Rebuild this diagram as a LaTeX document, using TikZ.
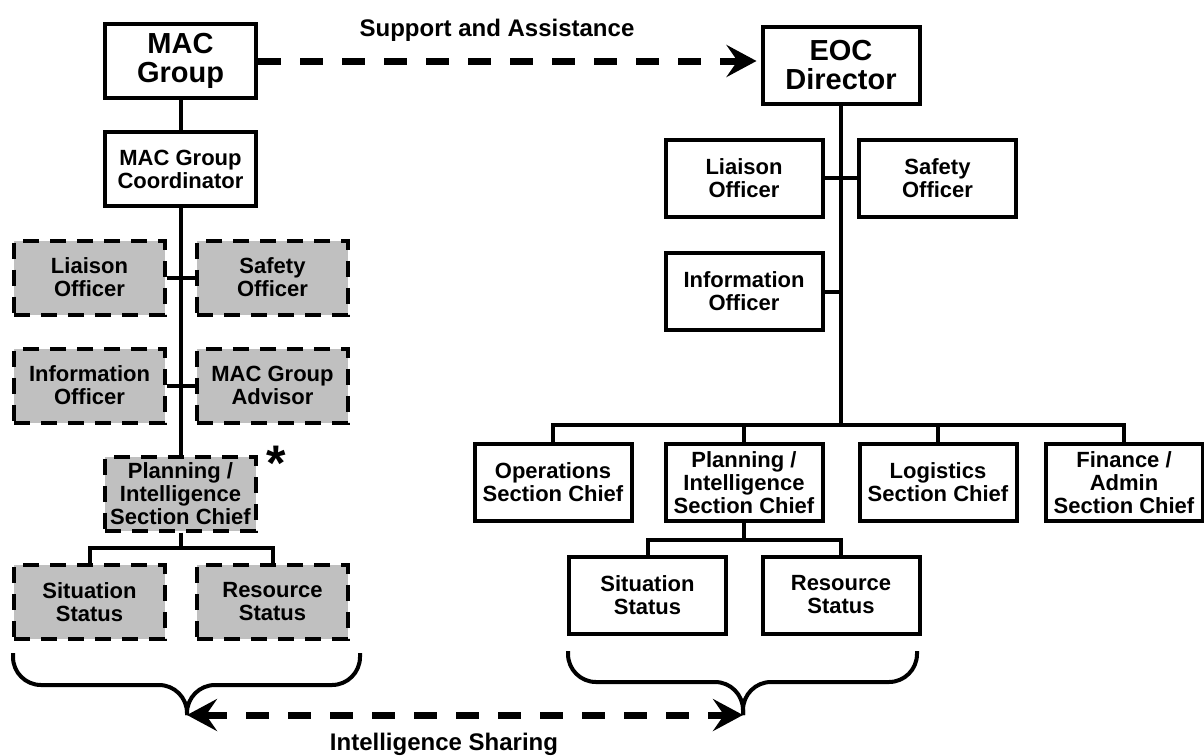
\documentclass[tikz,border=0pt]{standalone}
\usepackage{fontspec}
\setmainfont{Liberation Sans}
\usetikzlibrary{arrows.meta}
\definecolor{boxgray}{RGB}{192,192,192}

\begin{document}
\begin{tikzpicture}[x=1pt, y=-1pt,
  every node/.style={font=\bfseries\fontsize{22}{23}\selectfont, align=center, inner sep=0pt},
  lbox/.style={draw, line width=4pt, minimum width=151pt, minimum height=74pt},
  gbox/.style={lbox, fill=boxgray, dash pattern=on 16pt off 11pt},
  rbox/.style={draw, line width=4pt, minimum width=157pt, minimum height=77pt},
  title/.style={font=\bfseries\fontsize{29}{29}\selectfont},
  lbl/.style={font=\bfseries\fontsize{24}{26}\selectfont},
  link/.style={line width=4pt},
  brace/.style={line width=4pt, rounded corners=28pt},
  bigtip/.tip={Stealth[length=30pt,width=32pt,inset=11pt]},
  bigarrow/.style={line width=7pt, dash pattern=on 23pt off 19pt}]
\useasboundingbox (0,0) rectangle (1204,755);

\node[lbox, title] (mac) at (180.5,61) {MAC\\Group};
\node[lbox] (coord) at (180.5,169) {MAC Group\\Coordinator};
\node[gbox] (lliaison) at (89.5,277.5) {Liaison\\Officer};
\node[gbox] (lsafety) at (272.5,277.5) {Safety\\Officer};
\node[gbox] (linfo) at (89.5,385.5) {Information\\Officer};
\node[gbox] (ladvisor) at (272.5,385.5) {MAC Group\\Advisor};
\node[gbox] (lplan) at (180.5,493.5) {Planning /\\Intelligence\\Section Chief};
\node[anchor=north, font=\bfseries\fontsize{50}{50}\selectfont] (star) at (276,446) {*};
\node[gbox] (lsit) at (89.5,602) {Situation\\Status};
\node[gbox] (lres) at (272.5,602) {Resource\\Status};
\coordinate (lfork) at (180.5,548);

\draw[link] (mac) -- (coord);
\draw[link] (coord) -- (lplan);
\draw[link] (lliaison) -- (lsafety);
\draw[link] (linfo) -- (ladvisor);
\draw[link] (lplan) -- (lfork);
\draw[link] (lsit.north) |- (lfork) -| (lres.north);

\node[rbox, title] (eoc) at (841,65) {EOC\\Director};
\node[rbox] (rliaison) at (744,178) {Liaison\\Officer};
\node[rbox] (rsafety) at (937.5,178) {Safety\\Officer};
\node[rbox] (rinfo) at (744,291.5) {Information\\Officer};
\coordinate (rbar) at (841,425);
\node[rbox] (rops) at (553,482.5) {Operations\\Section Chief};
\node[rbox] (rplan) at (744,482.5) {Planning /\\Intelligence\\Section Chief};
\node[rbox] (rlog) at (938,482.5) {Logistics\\Section Chief};
\node[rbox] (rfin) at (1124,482.5) {Finance /\\Admin\\Section Chief};
\node[rbox] (rsit) at (647.5,595) {Situation\\Status};
\node[rbox] (rres) at (841,595) {Resource\\Status};
\coordinate (rfork) at (744,540);

\draw[link] (eoc) -- (rbar);
\draw[link] (rliaison) -- (rsafety);
\draw[link] (rinfo.east) -- (rinfo.east -| rbar);
\draw[link] (rops.north) |- (rbar) -| (rfin.north);
\draw[link] (rplan.north) -- (rplan.north |- rbar);
\draw[link] (rlog.north) -- (rlog.north |- rbar);
\draw[link] (rplan) -- (rfork);
\draw[link] (rsit.north) |- (rfork) -| (rres.north);

\coordinate (lbrace) at (187,715);
\coordinate (rbrace) at (743,715);
\draw[brace] (13,653) |- (187,685) -- (lbrace);
\draw[brace] (360,653) |- (187,685) -- (lbrace);
\draw[brace] (568,651) |- (743,682) -- (rbrace);
\draw[brace] (917,651) |- (743,682) -- (rbrace);

\draw[bigarrow, -bigtip, shorten >=4pt] (mac.east) -- (mac.east -| eoc.west);
\node[lbl] (support) at (497,30) {Support and Assistance};
\draw[bigarrow, bigtip-bigtip] (lbrace) -- (rbrace);
\node[lbl] (sharing) at (444,744) {Intelligence Sharing};
\end{tikzpicture}
\end{document}
